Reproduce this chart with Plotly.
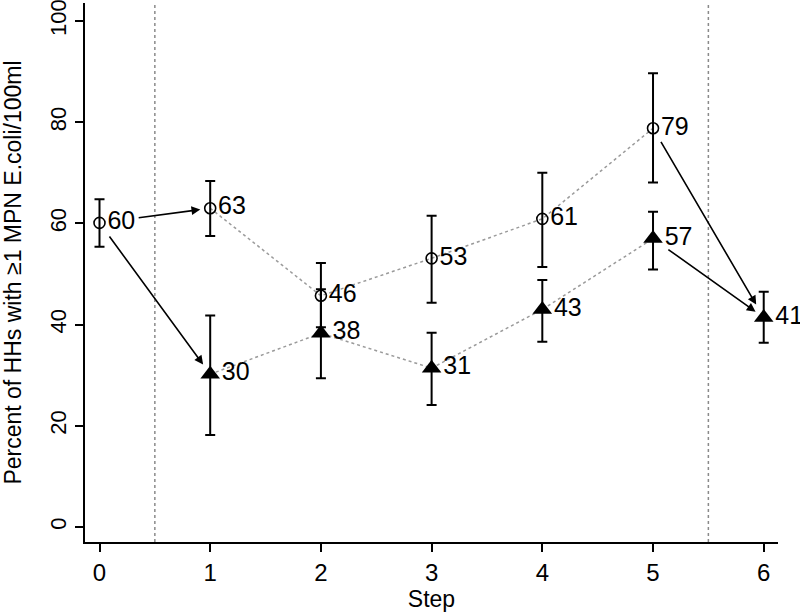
import plotly.graph_objects as go

# Circles: steps 0-5, triangles: steps 1-6
circle_steps = [0, 1, 2, 3, 4, 5]
circle_pct = [60.1, 63.0, 45.7, 53.1, 60.9, 78.8]
circle_lo = [55.4, 57.5, 39.5, 44.3, 51.4, 68.1]
circle_hi = [64.8, 68.4, 52.2, 61.5, 70.0, 89.7]

tri_steps = [1, 2, 3, 4, 5, 6]
tri_pct = [30.2, 38.3, 31.4, 43.0, 57.0, 41.4]
tri_lo = [18.2, 29.4, 24.1, 36.6, 50.9, 36.4]
tri_hi = [41.8, 47.0, 38.4, 48.8, 62.3, 46.5]

x_ticks = [0, 1, 2, 3, 4, 5, 6]
y_ticks = [0, 20, 40, 60, 80, 100]
ref_lines = [0.5, 5.5]

FONT = "Helvetica, Arial, Liberation Sans, sans-serif"


def err(vals, lo, hi):
    return dict(type="data", symmetric=False,
                array=[h - v for v, h in zip(vals, hi)],
                arrayminus=[v - l for v, l in zip(vals, lo)],
                color="black", thickness=2, width=5)


fig = go.Figure()

# dotted connectors, steps 1-5 only
fig.add_trace(go.Scatter(x=circle_steps[1:], y=circle_pct[1:], mode="lines",
                         line=dict(color="#9a9a9a", width=1.5, dash="dot"),
                         hoverinfo="skip"))
fig.add_trace(go.Scatter(x=tri_steps[:-1], y=tri_pct[:-1], mode="lines",
                         line=dict(color="#9a9a9a", width=1.5, dash="dot"),
                         hoverinfo="skip"))

fig.add_trace(go.Scatter(
    x=circle_steps, y=circle_pct, mode="markers+text", cliponaxis=False,
    text=[str(round(v)) for v in circle_pct], textposition="middle right",
    textfont=dict(size=25, color="black", family=FONT),
    marker=dict(symbol="circle-open", size=11, color="black", line=dict(width=1.6)),
    error_y=err(circle_pct, circle_lo, circle_hi)))

fig.add_trace(go.Scatter(
    x=tri_steps, y=tri_pct, mode="markers+text", cliponaxis=False,
    text=[str(round(v)) for v in tri_pct], textposition="middle right",
    textfont=dict(size=25, color="black", family=FONT),
    marker=dict(symbol="triangle-up", size=17, color="black"),
    error_y=err(tri_pct, tri_lo, tri_hi)))

for xv in ref_lines:
    fig.add_vline(x=xv, line=dict(color="#8a8a8a", width=1.5, dash="dot"))

# arrows between points: (tail x, tail y, head x, head y, start standoff, end standoff)
arrows = [
    (circle_steps[0], circle_pct[0], circle_steps[1], circle_pct[1], 38, 10),
    (circle_steps[0], circle_pct[0], tri_steps[0], tri_pct[0], 15, 12),
    (circle_steps[5], circle_pct[5], tri_steps[5], tri_pct[5], 14, 15),
    (tri_steps[4], tri_pct[4], tri_steps[5], tri_pct[5], 17, 10),
]
for x0, y0, x1, y1, s0, s1 in arrows:
    fig.add_annotation(x=x1, y=y1, ax=x0, ay=y0, xref="x", yref="y",
                       axref="x", ayref="y", showarrow=True, text="",
                       arrowhead=2, arrowsize=1.1, arrowwidth=1.6,
                       arrowcolor="black", startstandoff=s0, standoff=s1)

fig.update_xaxes(range=[-0.131, 6.129], tickvals=x_ticks, ticks="outside",
                 ticklen=8, tickwidth=1.5, tickcolor="black",
                 showline=True, linecolor="black", linewidth=1.5,
                 showgrid=False, zeroline=False, automargin=False,
                 ticklabeloverflow="allow",
                 tickfont=dict(size=24, color="black", family=FONT),
                 title=dict(text="Step", font=dict(size=23, color="black", family=FONT),
                            standoff=2))
fig.update_yaxes(range=[-2.96, 103.56], tickvals=y_ticks, ticks="outside",
                 ticklen=8, tickwidth=1.5, tickcolor="black", tickangle=-90,
                 showline=True, linecolor="black", linewidth=1.5,
                 showgrid=False, zeroline=False, automargin=False,
                 ticklabeloverflow="allow",
                 tickfont=dict(size=22, color="black", family=FONT),
                 title=dict(text="Percent of HHs with ≥1 MPN E.coli/100ml",
                            font=dict(size=23, color="black", family=FONT),
                            standoff=18))

fig.update_layout(width=800, height=612, showlegend=False,
                  plot_bgcolor="white", paper_bgcolor="white",
                  margin=dict(l=85, r=22, t=3, b=70))

fig.write_html("out.html", config={"displayModeBar": False},
               post_script="document.body.style.margin='0';")
